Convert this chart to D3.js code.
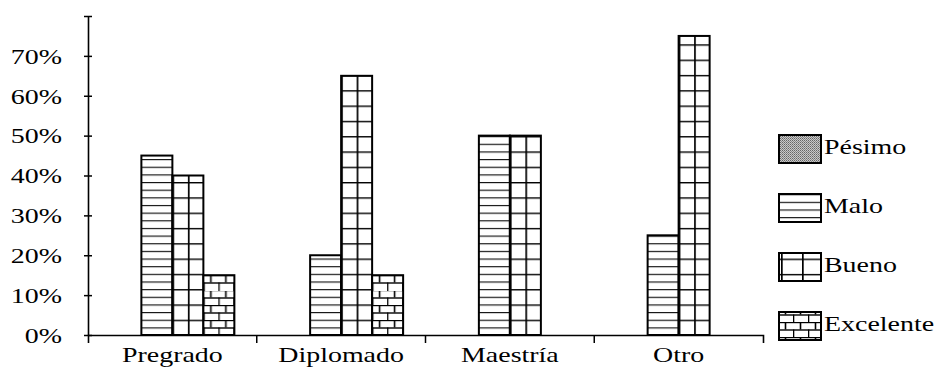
<!DOCTYPE html>
<html>
<head>
<meta charset="utf-8">
<script src="https://cdn.jsdelivr.net/npm/d3@7"></script>
<style>
  body { margin: 0; background: #fff; }
  text { font-family: "Liberation Serif", "Times New Roman", serif; fill: #000; }
</style>
</head>
<body>
<svg id="chart" width="948" height="368"></svg>
<script>
// data
const categories = ["Pregrado", "Diplomado", "Maestría", "Otro"]
const series = ["Pésimo", "Malo", "Bueno", "Excelente"]
const pesimo = [0, 0, 0, 0]
const malo = [0.45, 0.20, 0.50, 0.25]
const bueno = [0.40, 0.65, 0.50, 0.75]
const excelente = [0.15, 0.15, 0, 0]
const yTicks = [0, 0.1, 0.2, 0.3, 0.4, 0.5, 0.6, 0.7, 0.8]

const values = [pesimo, malo, bueno, excelente]
const SX = 1.27 // the scan is stretched sideways, so text is too

const svg = d3.select("#chart")
const defs = svg.append("defs")

const x0 = d3.scaleBand().domain(categories).range([88, 763])
const bw = x0.bandwidth()
const x1 = d3.scaleBand().domain(series).range([bw / 2 - 62, bw / 2 + 62])
const y = d3.scaleLinear().domain([0, 0.8]).range([335, 16])

// fill patterns, anchored on the bar's own left edge
function makePattern(id, kind, px, py, w) {
  const p = defs.append("pattern")
    .attr("id", id)
    .attr("patternUnits", "userSpaceOnUse")
    .attr("x", px)
    .attr("y", py)
  if (kind === "Malo") {
    p.attr("width", 10).attr("height", 7.65)
    p.append("rect").attr("width", 10).attr("height", 7.65).attr("fill", "#fff")
    p.append("line").attr("x1", 0).attr("x2", 10).attr("y1", 0.5).attr("y2", 0.5)
      .attr("stroke", "#111").attr("stroke-width", 1.3)
  } else if (kind === "Bueno") {
    const cw = w / 2
    p.attr("width", cw).attr("height", 15.3)
    p.append("rect").attr("width", cw).attr("height", 15.3).attr("fill", "#fff")
    p.append("line").attr("x1", 0).attr("x2", cw).attr("y1", 0.6).attr("y2", 0.6)
      .attr("stroke", "#000").attr("stroke-width", 1.6)
    p.append("line").attr("x1", 0.8).attr("x2", 0.8).attr("y1", 0).attr("y2", 15.3)
      .attr("stroke", "#000").attr("stroke-width", 1.8)
  } else if (kind === "Excelente") {
    p.attr("width", 15).attr("height", 15)
    p.append("rect").attr("width", 15).attr("height", 15).attr("fill", "#fff")
    p.append("line").attr("x1", 0).attr("x2", 15).attr("y1", 0.5).attr("y2", 0.5)
      .attr("stroke", "#000").attr("stroke-width", 1.4)
    p.append("line").attr("x1", 0).attr("x2", 15).attr("y1", 8).attr("y2", 8)
      .attr("stroke", "#000").attr("stroke-width", 1.4)
    p.append("line").attr("x1", 7.5).attr("x2", 7.5).attr("y1", 0).attr("y2", 7.5)
      .attr("stroke", "#000").attr("stroke-width", 1.6)
    p.append("line").attr("x1", 0.5).attr("x2", 0.5).attr("y1", 7.5).attr("y2", 15)
      .attr("stroke", "#000").attr("stroke-width", 1.6)
  } else {
    // Pésimo: stippled grey
    p.attr("width", 2).attr("height", 2)
    p.append("rect").attr("width", 2).attr("height", 2).attr("fill", "#c8c8c8")
    p.append("rect").attr("width", 1).attr("height", 1).attr("fill", "#666")
    p.append("rect").attr("x", 1).attr("y", 1).attr("width", 1).attr("height", 1).attr("fill", "#888")
  }
  return `url(#${id})`
}

// axes
const yAxis = svg.append("g")
  .attr("transform", `translate(${x0.range()[0]},0)`)
  .call(d3.axisLeft(y)
    .tickValues(yTicks)
    .tickSize(4)
    .tickSizeOuter(0)
    .tickFormat(d => d > 0.75 ? "" : d3.format(".0%")(d)))
yAxis.attr("font-size", 22).attr("font-family", null)
yAxis.select(".domain").attr("stroke", "#000").attr("stroke-width", 1.6)
yAxis.selectAll(".tick line").attr("x1", 4).attr("stroke", "#000").attr("stroke-width", 1.5)
yAxis.selectAll(".tick text")
  .attr("x", -20.5)
  .attr("dy", "0.33em")
  .attr("transform", `scale(${SX},1)`)
  .attr("fill", "#000")

const xAxis = svg.append("g")
  .attr("transform", `translate(0,${y(0)})`)
  .call(d3.axisBottom(x0).tickSize(0).tickSizeOuter(8))
xAxis.attr("font-size", 22).attr("font-family", null)
xAxis.select(".domain").attr("stroke", "#000").attr("stroke-width", 1.6)
xAxis.selectAll(".tick text")
  .attr("y", 27)
  .attr("dy", 0)
  .attr("transform", `scale(${SX},1)`)
  .attr("fill", "#000")

// boundary ticks between categories
xAxis.selectAll(".sep")
  .data(categories.slice(1))
  .join("line")
  .attr("class", "sep")
  .attr("x1", d => x0(d))
  .attr("x2", d => x0(d))
  .attr("y1", 0)
  .attr("y2", 8)
  .attr("stroke", "#000")
  .attr("stroke-width", 1.5)

// bars
const bars = categories.flatMap((c, i) =>
  series.map((s, j) => ({ c, s, v: values[j][i] }))
).filter(d => d.v > 0)

svg.append("g")
  .selectAll("rect")
  .data(bars)
  .join("rect")
  .attr("x", d => x0(d.c) + x1(d.s))
  .attr("y", d => y(d.v))
  .attr("width", x1.bandwidth())
  .attr("height", d => y(0) - y(d.v))
  .attr("fill", (d, i) => makePattern(`bar${i}`, d.s, x0(d.c) + x1(d.s), y(0), x1.bandwidth()))
  .attr("stroke", "#000")
  .attr("stroke-width", 2)

// legend
const legend = svg.append("g")
  .selectAll("g")
  .data(series)
  .join("g")
  .attr("transform", (d, i) => `translate(779,${135 + i * 59})`)

legend.append("rect")
  .attr("width", 42)
  .attr("height", 28)
  .attr("fill", (d, i) => makePattern(`leg${i}`, d, 779, 135 + i * 59 + 28, 42))
  .attr("stroke", "#000")
  .attr("stroke-width", 2)

legend.append("text")
  .attr("transform", `translate(45,19) scale(${SX},1)`)
  .attr("font-size", 22)
  .text(d => d)
</script>
</body>
</html>
